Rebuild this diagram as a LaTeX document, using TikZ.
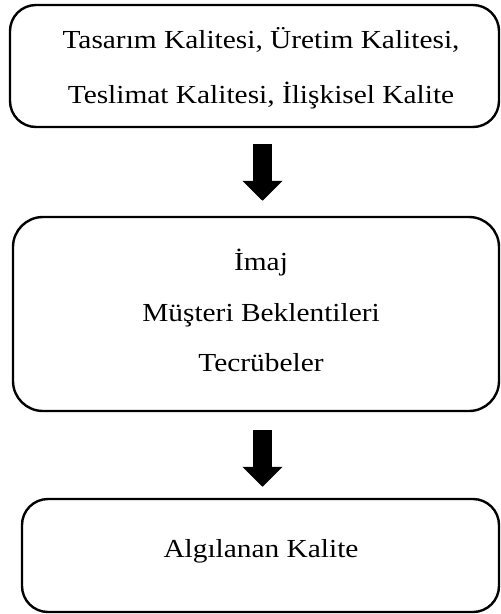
\documentclass[tikz,border=0pt]{standalone}
\usepackage{fontspec}
\setmainfont{Liberation Serif}
\usetikzlibrary{arrows.meta}
\tikzset{
  box/.style={draw=black, line width=2.4pt, rounded corners=26pt, inner sep=0pt},
  txt/.style={anchor=base, inner sep=0pt, font=\fontsize{26}{30}\selectfont},
  bigarrow/.style={line width=19pt, -{Triangle[length=20pt,width=39pt]}}
}
\newcommand{\wide}[1]{\scalebox{1.13}[1]{#1}}
\begin{document}
\begin{tikzpicture}[x=1pt,y=-1pt]
  \useasboundingbox (0,0) rectangle (501,614);
  % boxes
  \node[box, minimum width=489pt, minimum height=122pt] (b1) at (254.5,66) {};
  \node[box, rounded corners=30pt, minimum width=486pt, minimum height=194pt] (b2) at (256,314) {};
  \node[box, minimum width=477pt, minimum height=113pt] (b3) at (260.5,555.5) {};
  % texts
  \node[txt] (t1) at (261,48) {\wide{Tasarım Kalitesi, Üretim Kalitesi,}};
  \node[txt] (t2) at (261,103) {\wide{Teslimat Kalitesi, İlişkisel Kalite}};
  \node[txt] (t3) at (261,270) {\wide{İmaj}};
  \node[txt] (t4) at (261,321) {\wide{Müşteri Beklentileri}};
  \node[txt] (t5) at (261,371) {\wide{Tecrübeler}};
  \node[txt] (t6) at (261,557) {\wide{Algılanan Kalite}};
  % block arrows between the boxes
  \draw[bigarrow, shorten <=16pt, shorten >=15pt]
    ([xshift=8pt]b1.south) -- ([xshift=8pt]b1.south |- b2.north);
  \draw[bigarrow, shorten <=18pt, shorten >=11pt]
    ([xshift=6.5pt]b2.south) -- ([xshift=6.5pt]b2.south |- b3.north);
\end{tikzpicture}
\end{document}
